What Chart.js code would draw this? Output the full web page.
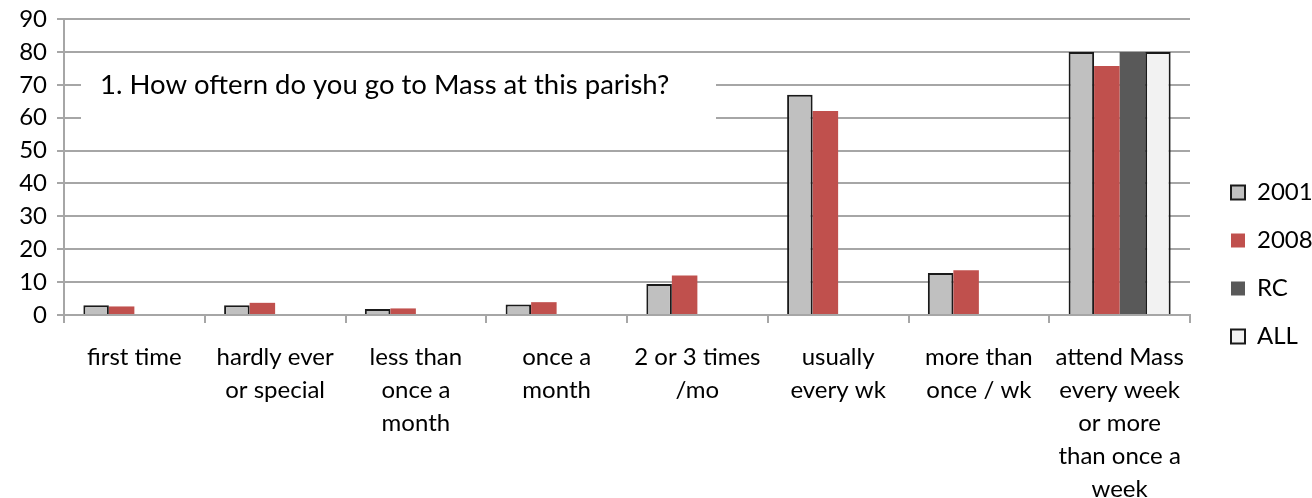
<!DOCTYPE html>
<html>
<head>
<meta charset="utf-8">
<script src="https://cdn.jsdelivr.net/npm/chart.js@4/dist/chart.umd.min.js"></script>
<style>
  html, body { margin: 0; padding: 0; background: #fff; }
  #wrap { width: 1312px; height: 498px; position: relative; }
</style>
</head>
<body>
<div id="wrap"><canvas id="chart"></canvas></div>
<script>
const categories = [
  ["first time"],
  ["hardly ever", "or special"],
  ["less than", "once a", "month"],
  ["once a", "month"],
  ["2 or 3 times", "/mo"],
  ["usually", "every wk"],
  ["more than", "once / wk"],
  ["attend Mass", "every week", "or more", "than once a", "week"]
]
const values2001 = [3, 3, 1.8, 3.2, 9.4, 67, 12.8, 80]
const values2008 = [2.6, 3.7, 2, 3.9, 12, 62, 13.6, 75.7]
const valuesRC = [null, null, null, null, null, null, null, 80]
const valuesAll = [null, null, null, null, null, null, null, 80]
const yTicks = [0, 10, 20, 30, 40, 50, 60, 70, 80, 90]
const noteText = "1. How oftern do you go to Mass at this parish?"

const fontFamily = "Lato, 'Open Sans', sans-serif"
const gridColor = "#a6a6a6"

// white text box sitting over the 60/70 gridlines, like the Excel note
const noteBox = {
  id: "noteBox",
  beforeDatasetsDraw(chart) {
    const { ctx, scales } = chart
    const y = scales.y
    const top = y.getPixelForValue(77)
    const bottom = y.getPixelForValue(56)
    ctx.save()
    ctx.fillStyle = "#fff"
    ctx.fillRect(81, top, 635, bottom - top)
    ctx.fillStyle = "#000"
    ctx.font = "27.5px " + fontFamily
    ctx.textBaseline = "middle"
    ctx.fillText(noteText, 100, y.getPixelForValue(70))
    ctx.restore()
  }
}

new Chart(document.getElementById("chart"), {
  type: "bar",
  data: {
    labels: categories,
    datasets: [
      { label: "2001", data: values2001, backgroundColor: "#c0c0c0", borderColor: "#1a1a1a", borderWidth: 2 },
      { label: "2008", data: values2008, backgroundColor: "#c0504d", borderWidth: 0 },
      { label: "RC", data: valuesRC, backgroundColor: "#595959", borderWidth: 0 },
      { label: "ALL", data: valuesAll, backgroundColor: "#f2f2f2", borderColor: "#1a1a1a", borderWidth: 2 }
    ]
  },
  options: {
    responsive: true,
    maintainAspectRatio: false,
    animation: false,
    datasets: {
      bar: { categoryPercentage: 0.725, barPercentage: 1.0 }
    },
    layout: { padding: { top: 19, left: 0, right: 0, bottom: 0 } },
    plugins: {
      legend: {
        position: "right",
        align: "center",
        maxWidth: 105,
        // blank title just nudges the legend block down a little
        title: { display: true, text: " ", font: { size: 10 }, padding: 0 },
        labels: {
          color: "#000",
          font: { family: fontFamily, size: 24 },
          boxWidth: 14,
          boxHeight: 14,
          padding: 24
        }
      },
      tooltip: { enabled: false }
    },
    scales: {
      x: {
        grid: {
          drawOnChartArea: false,
          color: gridColor,
          lineWidth: 2,
          tickLength: 8
        },
        border: { color: gridColor, width: 2 },
        ticks: {
          color: "#000",
          autoSkip: false,
          maxRotation: 0,
          minRotation: 0,
          padding: 18,
          font: { family: fontFamily, size: 24, lineHeight: 1.375 }
        },
        afterFit: (scale) => { scale.height = 183 }
      },
      y: {
        min: 0,
        max: 90,
        afterBuildTicks: (scale) => { scale.ticks = yTicks.map(v => ({ value: v })) },
        grid: { color: gridColor, lineWidth: 2, tickLength: 7 },
        border: { color: gridColor, width: 2 },
        ticks: {
          color: "#000",
          padding: 10,
          font: { family: fontFamily, size: 24 }
        },
        afterFit: (scale) => {
          scale.width = 64
          scale.paddingTop = 0
          scale.paddingBottom = 0
        }
      },
      // empty spacer so the plot ends where the Excel plot area ends
      gap: {
        type: "linear",
        position: "right",
        grid: { display: false },
        border: { display: false },
        ticks: { display: false },
        afterFit: (scale) => { scale.width = 17 }
      }
    }
  },
  plugins: [noteBox]
})
</script>
</body>
</html>
